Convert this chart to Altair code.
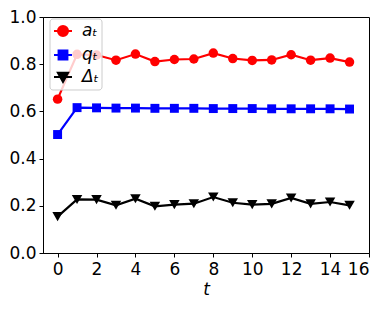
import altair as alt
import pandas as pd

t_vals = list(range(16))
a_vals = [0.652, 0.842, 0.839, 0.817, 0.843, 0.811, 0.820, 0.822, 0.847, 0.824, 0.816, 0.818, 0.840, 0.817, 0.826, 0.809]
q_vals = [0.502, 0.616, 0.615, 0.614, 0.614, 0.613, 0.613, 0.613, 0.612, 0.612, 0.612, 0.611, 0.611, 0.611, 0.611, 0.610]
d_vals = [0.154, 0.227, 0.226, 0.202, 0.230, 0.198, 0.205, 0.209, 0.237, 0.213, 0.205, 0.208, 0.233, 0.208, 0.216, 0.202]

series_names = ["aₜ", "qₜ", "Δₜ"]
series_colors = ["#ff0000", "#0000ff", "#000000"]
series_shapes = ["circle", "square", "triangle-down"]
series_sizes = [90, 80, 110]
x_ticks = [0, 2, 4, 6, 8, 10, 12, 14, 16]
y_ticks = [0.0, 0.2, 0.4, 0.6, 0.8, 1.0]

rows = []
for name, vals in zip(series_names, [a_vals, q_vals, d_vals]):
    for t, v in zip(t_vals, vals):
        rows.append({"t": t, "value": v, "series": name})
df = pd.DataFrame(rows)

# legend symbols: line segment with marker (unit box -1..1)
legend_paths = [
    "M-1,0H1M-0.55,0A0.55,0.55 0 1,0 0.55,0A0.55,0.55 0 1,0 -0.55,0Z",
    "M-1,0H1M-0.48,-0.48H0.48V0.48H-0.48Z",
    "M-1,0H1M-0.55,-0.45H0.55L0,0.52Z",
]
# legend frame: rounded rectangle as a symbol path
frame_path = ("M-0.885,-1.365H0.885A0.115,0.115 0 0 1 1,-1.25V1.25"
              "A0.115,0.115 0 0 1 0.885,1.365H-0.885A0.115,0.115 0 0 1 -1,1.25"
              "V-1.25A0.115,0.115 0 0 1 -0.885,-1.365Z")

x_axis = alt.Axis(values=x_ticks, title="t", titleFontStyle="italic",
                  titleFontWeight="normal", titleFontSize=17, titlePadding=4)
y_axis = alt.Axis(values=y_ticks, format=".1f", title=None)
x_scale = alt.Scale(domain=[-0.75, 16], nice=False, zero=False)
y_scale = alt.Scale(domain=[0, 1], nice=False)
x_enc = alt.X("t:Q", scale=x_scale, axis=x_axis, title="t")
y_enc = alt.Y("value:Q", scale=y_scale, axis=y_axis, title=None)
color_scale = alt.Scale(domain=series_names, range=series_colors)

lines = alt.Chart(df).mark_line(strokeWidth=2.2).encode(
    x=x_enc, y=y_enc,
    color=alt.Color("series:N", scale=color_scale, legend=None),
    order="t:Q",
)

point_layers = []
for name, col, shp, sz in zip(series_names, series_colors, series_shapes, series_sizes):
    point_layers.append(
        alt.Chart(df).transform_filter(alt.datum.series == name)
        .mark_point(filled=True, opacity=1, shape=shp, size=sz, color=col)
        .encode(x=x_enc, y=y_enc)
    )

one = pd.DataFrame({"k": [0]})
legend_layers = [
    alt.Chart(one).mark_point(shape=frame_path, size=2704, filled=True, fill="white",
                              fillOpacity=0.8, stroke="#cccccc", strokeWidth=1,
                              strokeOpacity=1).encode(
        x=alt.value(33), y=alt.value(37.5))
]
row_y = [14, 38, 60]
for name, col, path, yy in zip(series_names, series_colors, legend_paths, row_y):
    legend_layers.append(
        alt.Chart(one).mark_point(shape=path, size=324, filled=True, fill=col, stroke=col,
                                  strokeWidth=2.2, opacity=1).encode(
            x=alt.value(20), y=alt.value(yy))
    )
    legend_layers.append(
        alt.Chart(one).mark_text(text=name, align="left", baseline="middle", fontSize=17,
                                 fontStyle="italic", font="DejaVu Sans", color="black").encode(
            x=alt.value(39), y=alt.value(yy))
    )

chart = alt.layer(lines, *point_layers, *legend_layers).properties(
    width=326, height=236,
    autosize=alt.AutoSizeParams(type="none"),
    padding={"left": 35, "top": 9, "right": 6, "bottom": 50},
).configure_view(stroke="black", strokeWidth=1).configure_axis(
    grid=False, domainColor="black", tickColor="black", tickSize=4,
    labelFontSize=17, labelColor="black", labelFont="DejaVu Sans",
    titleFont="DejaVu Sans", titleColor="black", labelPadding=4,
).configure_axisY(labelPadding=3)

chart.save("out.html", embed_options={"renderer": "svg", "actions": False})
